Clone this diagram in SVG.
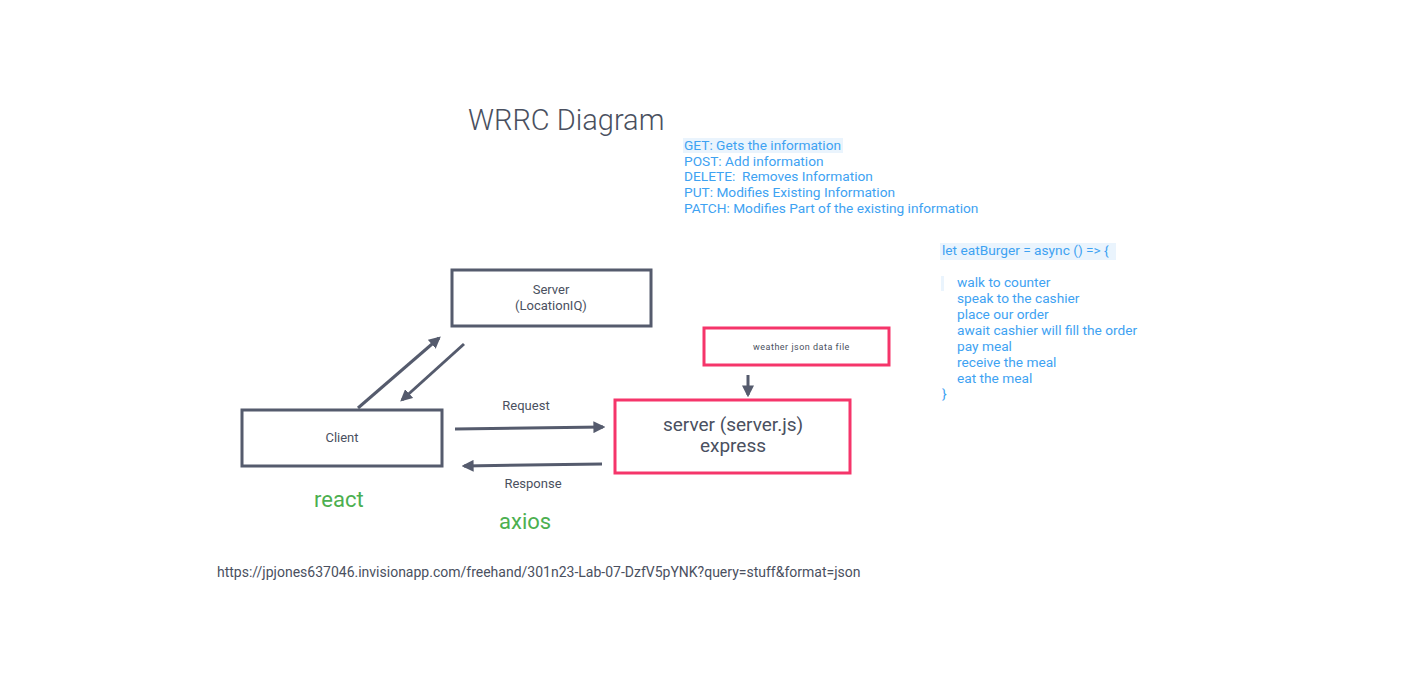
<svg xmlns="http://www.w3.org/2000/svg" width="1420" height="685" viewBox="0 0 1420 685">
<defs>
<marker id="ah" viewBox="0 0 10 10" refX="8" refY="5" markerWidth="4" markerHeight="4" orient="auto" markerUnits="strokeWidth">
<path d="M0,0 L10,5 L0,10 z" fill="#555b6d"/>
</marker>
</defs>
<style>
.box{fill:#fff;stroke:#555b6d;stroke-width:3}
.pbox{fill:#fff;stroke:#f5356a;stroke-width:3}
.con{stroke:#555b6d;stroke-width:3;fill:none;marker-end:url(#ah)}
.t{font-family:Roboto,"Liberation Sans",sans-serif;fill:#4a5060}
.blue{font-family:Roboto,"Liberation Sans",sans-serif;fill:#3ea2f2;font-size:13.7px}
.green{font-family:Roboto,"Liberation Sans",sans-serif;fill:#4caf50;font-size:22px}
</style>
<rect width="1420" height="685" fill="#fff"/>
<text class="t" x="468" y="130" font-size="29" font-weight="300" fill="#585e70">WRRC Diagram</text>
<g id="methods">
<rect x="683" y="138" width="160" height="15" fill="#eaf4fd"/>
<text class="blue" x="684" y="150">GET: Gets the information</text>
<text class="blue" x="684" y="166">POST: Add information</text>
<text class="blue" x="684" y="181" xml:space="preserve">DELETE:  Removes Information</text>
<text class="blue" x="684" y="197">PUT: Modifies Existing Information</text>
<text class="blue" x="684" y="213">PATCH: Modifies Part of the existing information</text>
</g>
<g id="code">
<rect x="940" y="243" width="176" height="17" fill="#eaf4fd"/>
<rect x="941" y="276" width="3" height="15" fill="#eaf4fd"/>
<text class="blue" x="942" y="255">let eatBurger = async () =&gt; {</text>
<text class="blue" x="957" y="287">walk to counter</text>
<text class="blue" x="957" y="303">speak to the cashier</text>
<text class="blue" x="957" y="319">place our order</text>
<text class="blue" x="957" y="335">await cashier will fill the order</text>
<text class="blue" x="957" y="351">pay meal</text>
<text class="blue" x="957" y="367">receive the meal</text>
<text class="blue" x="957" y="383">eat the meal</text>
<text class="blue" x="942" y="398">}</text>
</g>
<g id="connectors">
<line class="con" x1="358" y1="408" x2="439" y2="338"/>
<line class="con" x1="464" y1="344" x2="402" y2="400"/>
<line class="con" x1="455" y1="429" x2="603" y2="427"/>
<line class="con" x1="602" y1="464" x2="464" y2="466"/>
<line class="con" x1="748" y1="375" x2="748" y2="395"/>
<text class="t" x="526" y="410" font-size="13" text-anchor="middle">Request</text>
<text class="t" x="533" y="488" font-size="13" text-anchor="middle">Response</text>
</g>
<g id="server-locationiq">
<rect class="box" x="452" y="270" width="199" height="56"/>
<text class="t" x="551" y="294" font-size="13" text-anchor="middle">Server</text>
<text class="t" x="551" y="310" font-size="13" text-anchor="middle">(LocationIQ)</text>
</g>
<g id="client">
<rect class="box" x="242" y="410" width="200" height="56"/>
<text class="t" x="342" y="442" font-size="13" text-anchor="middle">Client</text>
</g>
<g id="weather">
<rect class="pbox" x="704" y="328" width="185" height="37"/>
<text class="t" x="753" y="350" font-size="9" letter-spacing="0.5">weather json data file</text>
</g>
<g id="server-express">
<rect class="pbox" x="615" y="400" width="235" height="73"/>
<text class="t" x="733" y="431" font-size="19" text-anchor="middle" fill="#3e4350">server (server.js)</text>
<text class="t" x="733" y="452" font-size="19" text-anchor="middle" fill="#3e4350">express</text>
</g>
<text class="green" x="314" y="507">react</text>
<text class="green" x="499" y="529">axios</text>
<text class="t" x="217" y="577" font-size="14">https://jpjones637046.invisionapp.com/freehand/301n23-Lab-07-DzfV5pYNK?query=stuff&amp;format=json</text>
</svg>
